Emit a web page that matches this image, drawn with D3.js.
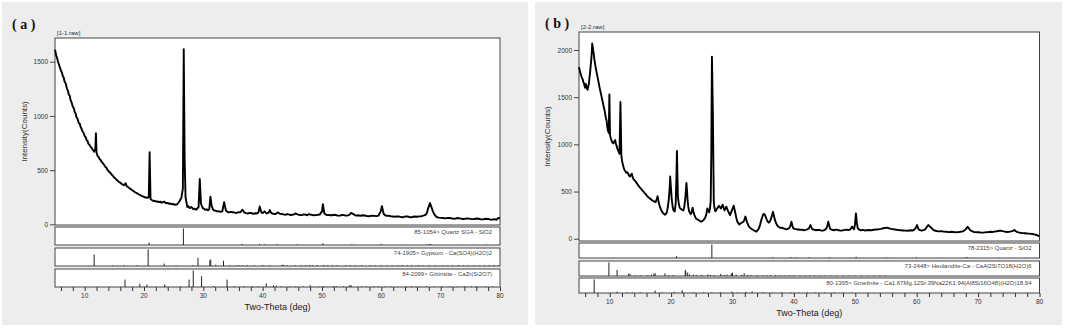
<!DOCTYPE html>
<html lang="en">
  <head>
    <meta charset="utf-8" />
    <title>XRD patterns</title>
    <script src="https://d3js.org/d3.v7.min.js"></script>
    <style>
      body {
        margin: 0;
        background-color: #ffffff;
        font-family: "Liberation Sans", Arial, sans-serif;
      }
      .tick text {
        font-family: "Liberation Sans", Arial, sans-serif;
      }
    </style>
  </head>

  <body>
    <div id="my_dataviz"></div>

    <script>
      // ---- data: [2theta, counts] ----
      const traceA = [
        [5.0,1610],[5.2,1560],[5.4,1525],[5.5,1500],[5.7,1470],[5.8,1450],[6.0,1420],[6.2,1395],[6.3,1370],[6.5,1350],[6.6,1320],[6.8,1300],[7.0,1255],
        [7.2,1230],[7.3,1200],[7.5,1185],[7.6,1150],[7.8,1125],[8.0,1085],[8.2,1070],[8.3,1040],[8.5,1020],[8.6,990],[8.8,975],[9.0,935],[9.2,925],
        [9.3,900],[9.5,880],[9.6,860],[9.8,845],[10.0,815],[10.2,800],[10.3,780],[10.5,768],[10.6,745],[10.8,735],[11.0,715],[11.2,705],[11.3,690],
        [11.5,680],[11.6,670],[11.8,700],[11.9,840],[12.0,660],[12.1,645],[12.2,630],[12.4,618],[12.5,605],[12.7,592],[12.8,580],[13.0,570],
        [13.1,560],[13.3,548],[13.5,530],[13.7,520],[13.8,505],[14.0,495],[14.2,480],[14.4,470],[14.6,455],[14.8,445],[15.0,430],[15.2,422],
        [15.4,410],[15.6,402],[15.8,390],[16.0,385],[16.2,375],[16.4,368],[16.6,360],[16.9,380],[17.1,350],[17.3,345],[17.5,335],[17.8,325],
        [18.0,315],[18.3,305],[18.5,295],[18.8,288],[19.0,280],[19.3,272],[19.5,265],[19.8,258],[20.0,252],[20.3,248],[20.5,245],[20.8,250],
        [20.95,665],[21.1,235],[21.3,225],[21.6,215],[21.8,218],[22.0,210],[22.3,212],[22.5,205],[22.8,208],[23.0,200],[23.4,210],[23.7,195],
        [24.0,198],[24.2,190],[24.5,192],[24.7,185],[25.0,188],[25.2,180],[25.6,185],[26.0,215],[26.3,245],[26.55,330],[26.7,1615],[26.85,600],
        [27.0,250],[27.3,160],[27.5,168],[27.7,150],[28.0,160],[28.3,140],[28.5,145],[28.8,135],[29.2,160],[29.4,418],[29.6,190],[29.9,150],
        [30.1,145],[30.3,135],[30.6,138],[30.8,130],[31.0,140],[31.2,255],[31.4,170],[31.6,140],[31.8,130],[32.1,125],[32.3,120],[32.6,122],
        [32.8,115],[33.2,120],[33.5,205],[33.8,130],[34.0,118],[34.3,110],[34.6,115],[35.0,112],[35.3,108],[35.6,105],[35.9,112],[36.2,110],
        [36.6,135],[36.9,110],[37.2,104],[37.5,100],[37.8,106],[38.0,105],[38.3,100],[38.5,98],[38.8,102],[39.0,100],[39.3,110],[39.5,165],
        [39.8,110],[40.0,104],[40.3,120],[40.7,100],[41.0,108],[41.2,132],[41.4,108],[41.6,100],[41.9,96],[42.1,95],[42.4,104],[42.6,110],
        [42.9,98],[43.2,95],[43.5,92],[43.8,88],[44.1,94],[44.4,92],[44.7,86],[45.0,88],[45.3,92],[45.5,100],[45.8,94],[46.0,90],[46.3,86],
        [46.6,85],[46.9,92],[47.2,90],[47.5,84],[47.8,95],[48.0,90],[48.3,88],[48.6,84],[49.0,85],[49.3,88],[49.6,90],[50.0,120],[50.15,185],
        [50.4,100],[50.6,92],[50.9,85],[51.2,88],[51.5,82],[51.8,86],[52.2,88],[52.6,82],[53.0,80],[53.4,86],[53.7,85],[54.0,80],[54.3,82],
        [54.6,88],[54.9,105],[55.3,95],[55.5,86],[55.8,80],[56.1,84],[56.5,78],[56.8,84],[57.2,82],[57.6,76],[58.0,75],[58.4,80],[58.8,78],
        [59.2,76],[59.5,80],[59.9,120],[60.1,168],[60.4,95],[60.6,86],[60.9,78],[61.2,80],[61.6,75],[62.0,72],[62.3,70],[62.6,74],[63.0,72],
        [63.4,66],[63.8,68],[64.1,74],[64.5,72],[64.8,66],[65.2,68],[65.6,72],[66.0,70],[66.4,74],[66.8,75],[67.2,82],[67.5,90],[67.7,110],
        [67.9,150],[68.2,196],[68.5,150],[68.7,120],[68.9,95],[69.1,80],[69.4,65],[69.7,62],[70.0,60],[70.4,58],[70.8,55],[71.2,60],[71.6,58],
        [72.0,54],[72.4,52],[72.8,58],[73.2,55],[73.6,50],[74.0,50],[74.4,55],[74.8,53],[75.2,48],[75.6,48],[76.0,54],[76.4,52],[76.8,46],
        [77.2,47],[77.6,52],[78.0,50],[78.4,44],[78.8,45],[79.1,48],[79.4,42],[79.7,60],[80.0,55]
      ];

      const traceB = [
        [5.0,1820],[5.1,1790],[5.2,1760],[5.3,1740],[5.4,1720],[5.5,1700],[5.6,1690],[5.7,1660],[5.8,1650],[5.9,1620],[6.0,1600],[6.1,1640],
        [6.2,1620],[6.3,1590],[6.4,1580],[6.5,1610],[6.6,1640],[6.7,1700],[6.8,1760],[6.9,1830],[7.0,1900],[7.1,1990],[7.15,2070],[7.25,2030],
        [7.3,2000],[7.4,1960],[7.5,1900],[7.6,1860],[7.7,1820],[7.85,1770],[8.0,1720],[8.15,1670],[8.3,1620],[8.45,1570],[8.6,1530],[8.75,1480],
        [8.9,1440],[9.05,1390],[9.2,1350],[9.35,1290],[9.5,1250],[9.6,1190],[9.7,1150],[9.85,1120],[9.95,1530],[10.05,1100],[10.2,1060],
        [10.3,1040],[10.45,1020],[10.6,1010],[10.75,1030],[10.9,1045],[11.0,1010],[11.1,990],[11.25,955],[11.4,930],[11.5,915],[11.6,900],
        [11.75,1450],[11.9,880],[12.0,830],[12.1,800],[12.25,760],[12.4,730],[12.55,715],[12.7,700],[12.85,705],[13.0,690],[13.15,670],[13.3,660],
        [13.45,675],[13.6,690],[13.75,650],[13.9,630],[14.1,615],[14.3,600],[14.5,580],[14.7,560],[14.9,545],[15.1,530],[15.3,512],[15.5,500],
        [15.7,484],[15.9,470],[16.1,452],[16.3,440],[16.5,428],[16.7,420],[16.9,408],[17.1,400],[17.3,392],[17.5,390],[17.8,450],[18.0,380],
        [18.15,345],[18.3,320],[18.5,290],[18.7,270],[18.85,262],[19.0,255],[19.15,262],[19.3,280],[19.45,330],[19.6,400],[19.75,520],[19.85,660],
        [19.95,560],[20.1,420],[20.25,340],[20.4,300],[20.6,290],[20.75,380],[20.85,600],[20.95,930],[21.05,620],[21.1,450],[21.25,370],
        [21.4,330],[21.55,318],[21.7,310],[21.85,305],[22.0,300],[22.15,340],[22.3,420],[22.5,590],[22.6,500],[22.7,400],[22.8,340],[22.9,300],
        [23.05,275],[23.2,260],[23.35,280],[23.5,330],[23.65,280],[23.8,250],[23.95,228],[24.1,210],[24.3,205],[24.5,195],[24.7,190],[24.9,180],
        [25.1,188],[25.3,200],[25.45,215],[25.6,230],[25.75,265],[25.9,320],[26.05,300],[26.2,280],[26.35,330],[26.45,400],[26.55,900],
        [26.65,1930],[26.8,1350],[26.95,400],[27.05,330],[27.2,290],[27.35,305],[27.5,320],[27.65,335],[27.8,350],[27.95,335],[28.1,320],
        [28.25,340],[28.4,360],[28.55,330],[28.7,300],[28.85,320],[29.0,340],[29.15,315],[29.3,290],[29.45,270],[29.6,250],[29.75,275],[29.9,300],
        [30.05,325],[30.2,350],[30.35,305],[30.5,260],[30.65,215],[30.8,180],[30.95,165],[31.1,150],[31.3,162],[31.5,170],[31.65,175],[31.8,180],
        [31.95,205],[32.1,235],[32.25,200],[32.4,170],[32.6,140],[32.8,120],[33.0,108],[33.2,100],[33.4,92],[33.6,85],[33.75,80],[33.9,75],
        [34.1,90],[34.3,110],[34.5,150],[34.7,200],[34.85,230],[35.0,260],[35.15,262],[35.3,250],[35.45,225],[35.6,200],[35.75,180],[35.9,170],
        [36.05,180],[36.2,200],[36.4,240],[36.6,285],[36.75,240],[36.9,200],[37.1,165],[37.3,140],[37.55,125],[37.8,115],[38.05,118],[38.3,110],
        [38.55,105],[38.8,100],[39.0,104],[39.2,110],[39.4,130],[39.6,180],[39.75,140],[39.9,110],[40.15,104],[40.4,100],[40.7,98],[41.0,95],
        [41.3,96],[41.6,90],[41.9,94],[42.2,100],[42.45,110],[42.7,145],[42.85,120],[43.0,100],[43.3,96],[43.6,90],[43.9,94],[44.2,92],
        [44.5,86],[44.8,88],[45.05,95],[45.3,110],[45.45,140],[45.6,180],[45.75,140],[45.9,105],[46.2,95],[46.5,90],[46.85,96],[47.2,92],
        [47.55,86],[47.9,88],[48.25,94],[48.6,95],[48.9,92],[49.2,100],[49.35,115],[49.5,130],[49.65,112],[49.8,100],[49.95,150],[50.1,269],
        [50.25,170],[50.4,110],[50.65,96],[50.9,90],[51.2,94],[51.5,88],[51.85,90],[52.2,92],[52.6,90],[53.0,95],[53.4,98],[53.8,100],[54.15,104],
        [54.5,110],[54.75,114],[55.0,115],[55.25,118],[55.5,110],[55.85,104],[56.2,100],[56.6,96],[57.0,92],[57.4,90],[57.8,88],[58.2,86],
        [58.6,85],[59.0,90],[59.4,88],[59.6,96],[59.8,110],[60.05,145],[60.2,118],[60.3,100],[60.55,92],[60.8,85],[61.1,92],[61.4,100],
        [61.65,125],[61.9,145],[62.1,132],[62.3,120],[62.55,104],[62.8,90],[63.2,82],[63.6,78],[64.0,80],[64.4,75],[64.8,74],[65.2,70],[65.6,74],
        [66.0,72],[66.4,68],[66.8,70],[67.15,74],[67.5,78],[67.75,88],[68.0,100],[68.15,115],[68.3,127],[68.5,110],[68.7,90],[69.0,80],[69.3,72],
        [69.65,70],[70.0,68],[70.4,66],[70.8,65],[71.2,68],[71.6,70],[72.0,74],[72.4,72],[72.7,76],[73.0,78],[73.25,82],[73.5,85],[73.75,84],
        [74.0,80],[74.35,76],[74.7,72],[75.05,74],[75.4,78],[75.65,84],[75.9,92],[76.15,80],[76.4,70],[76.8,64],[77.2,60],[77.6,58],[78.0,55],
        [78.4,54],[78.8,50],[79.15,46],[79.5,40],[79.75,32],[80.0,25]
      ];

      // reference patterns: [2theta, relative intensity %]
      const quartzA = [[20.86,15],[26.64,100],[36.54,6],[39.47,6],[40.29,4],[42.45,5],[45.79,4],[50.14,10],[54.87,3],[55.33,2],
        [59.96,7],[64.03,2],[67.74,3],[68.14,5],[68.32,4],[73.47,2],[75.66,2],[77.67,2],[79.88,2]];
      const gypsum = [[11.6,70],[14.7,3],[16.6,5],[18.8,4],[20.7,100],[23.4,15],[25.4,3],[28.2,5],[29.1,50],[31.1,35],[31.25,40],
        [32.1,8],[33.4,32],[34.5,4],[35.5,4],[36.0,4],[36.6,4],[37.4,4],[38.6,4],[40.0,6],[41.2,3],[43.3,8],[43.6,6],[44.2,4],[45.5,4],
        [46.5,4],[47.2,5],[47.9,6],[48.4,4],[49.2,5],[50.3,6],[51.0,4],[51.8,5],[52.5,4],[54.0,4],[54.8,4],[55.6,4],[56.7,5],[58.1,4],
        [59.0,4],[60.0,4],[61.0,4],[61.8,4],[62.8,5],[63.5,5],[64.4,4],[65.1,5],[66.3,5],[67.0,4],[68.1,5],[69.1,4],[70.4,4],[71.2,4],
        [72.0,4],[73.0,5],[73.8,4],[74.6,4],[75.6,4],[76.6,4],[77.4,4],[78.2,4],[79.0,4],[79.7,4]];
      const gittinsite = [[16.8,45],[19.3,20],[20.5,15],[23.5,15],[26.2,3],[27.6,45],[28.3,100],[29.7,65],[31.7,5],[34.0,45],[35.2,4],
        [36.9,5],[38.3,5],[39.2,5],[40.6,22],[41.8,10],[42.3,8],[43.1,5],[44.5,4],[45.6,4],[46.8,4],[48.0,10],[49.5,3],[50.3,6],[51.9,5],
        [52.4,5],[53.6,3],[54.6,10],[54.9,12],[56.6,4],[57.5,4],[58.7,5],[59.5,4],[60.6,4],[61.6,3],[62.8,3],[64.2,4],[65.1,5],[66.5,4],
        [67.6,4],[68.9,4],[70.3,4],[71.6,4],[72.7,3],[74.0,4],[75.2,4],[76.0,4],[77.6,4],[78.8,4]];

      const quartzB = [[20.86,14],[26.64,100],[36.54,6],[39.47,6],[40.29,4],[42.45,5],[45.79,4],[50.14,9],[54.87,3],[55.33,2],
        [59.96,6],[64.03,2],[67.74,3],[68.14,5],[68.32,4],[73.47,2],[75.66,2],[77.67,2],[79.88,2]];
      const heulandite = [[9.87,100],[11.2,45],[13.1,18],[13.3,15],[14.2,5],[15.1,5],[16.2,6],[16.8,10],[17.2,18],[17.4,20],[19.0,20],
        [19.6,6],[20.3,6],[22.3,45],[22.4,35],[22.7,25],[23.0,12],[23.6,10],[24.1,8],[25.0,8],[26.0,12],[26.4,8],[27.0,6],[28.1,15],
        [28.7,8],[29.1,10],[29.8,20],[30.0,25],[30.6,10],[31.5,8],[31.9,20],[32.5,8],[33.0,6],[34.0,5],[35.0,5],[35.6,5],[36.2,6],[37.0,5],
        [37.8,5],[38.5,4],[39.3,5],[40.0,5],[41.0,4],[41.8,4],[42.6,5],[43.4,4],[44.3,4],[45.0,4],[46.0,4],[47.0,4],[48.0,4],[49.0,4],
        [50.0,4],[51.0,4],[52.0,4],[53.0,4],[54.0,4],[55.0,4]];
      const gmelinite = [[7.47,100],[11.2,10],[12.9,5],[13.7,4],[15.0,4],[17.4,18],[18.5,4],[20.5,8],[21.8,20],[23.6,6],[25.3,5],
        [26.6,5],[28.0,6],[29.9,10],[30.8,4],[32.2,8],[33.2,12],[35.0,6],[36.5,4],[38.0,4],[39.5,4],[40.8,4],[42.2,4],[43.5,4],[45.0,4],
        [46.6,4],[48.0,3],[49.5,3]];

      const xMinorTicks = [6,8,10,12,14,16,18,20,22,24,26,28,30,32,34,36,38,40,42,44,46,48,50,52,54,56,58,60,62,64,66,68,70,72,74,76,78,80];
      const xTickLabels = [10,20,30,40,50,60,70,80];
      const yTicksA = [0,500,1000,1500];
      const yTicksB = [0,500,1000,1500,2000];

      const refLabelsA = ["85-1054> Quartz SGA - SiO2", "74-1905> Gypsum - Ca(SO4)(H2O)2", "84-2099> Gittinsite - CaZr(Si2O7)"];
      const refLabelsB = ["78-2315> Quartz - SiO2", "73-2448> Heulandite-Ca - CaAl2Si7O18(H2O)6",
        "80-1395> Gmelinite - Ca1.67Mg.12Sr.39Na22K1.94(Al8Si16O48)(H2O)18.94"];

      const W = 1065, H = 328;
      const svg = d3.select("#my_dataviz").append("svg").attr("width", W).attr("height", H);

      const panels = [
        {
          tag: "( a )", raw: "[1-1.raw]", bg: [2, 2, 526, 323], tagX: 12, tagY: 29,
          left: 55, right: 500, top: 38, bottom: 225, yDom: [-6, 1719], yTicks: yTicksA,
          trace: traceA, refs: [quartzA, gypsum, gittinsite], labels: refLabelsA,
          boxes: [[227, 245], [248, 266], [269, 287]], labelY: 298, titleY: 310, ylabX: 27
        },
        {
          tag: "( b )", raw: "[2-2.raw]", bg: [535, 2, 527, 323], tagX: 545, tagY: 28,
          left: 579, right: 1039.5, top: 32, bottom: 241, yDom: [-24, 2191], yTicks: yTicksB,
          trace: traceB, refs: [quartzB, heulandite, gmelinite], labels: refLabelsB,
          boxes: [[243, 258], [261, 276], [278, 293]], labelY: 304, titleY: 316, ylabX: 550
        }
      ];

      panels.forEach((p) => {
        const g = svg.append("g");

        g.append("rect")
          .attr("x", p.bg[0]).attr("y", p.bg[1])
          .attr("width", p.bg[2]).attr("height", p.bg[3])
          .style("fill", "#ededed");

        g.append("text")
          .attr("x", p.tagX).attr("y", p.tagY)
          .style("font-family", "'Liberation Serif', 'Times New Roman', serif")
          .style("font-weight", "bold").style("font-size", "14px")
          .style("fill", "#111")
          .text(p.tag);

        const x = d3.scaleLinear().domain([5, 80]).range([p.left, p.right]);
        const y = d3.scaleLinear().domain(p.yDom).range([p.bottom, p.top]);

        // main plot frame
        g.append("rect")
          .attr("x", p.left).attr("y", p.top)
          .attr("width", p.right - p.left).attr("height", p.bottom - p.top)
          .style("fill", "white").style("stroke", "#444").style("stroke-width", 1);

        g.append("text")
          .attr("x", p.left + 2).attr("y", p.top - 3)
          .style("font-size", "6px").style("fill", "#333")
          .text(p.raw);

        // y axis
        g.append("g")
          .attr("transform", `translate(${p.left},0)`)
          .style("font-size", "6.5px")
          .call(d3.axisLeft(y).tickValues(p.yTicks).tickSize(5).tickPadding(2).tickFormat(d3.format("d")))
          .call((a) => a.select(".domain").remove())
          .call((a) => a.selectAll("line").style("stroke", "#444"))
          .call((a) => a.selectAll("text").style("fill", "#333"));

        g.append("text")
          .attr("transform", `translate(${p.ylabX},${(p.top + p.bottom) / 2}) rotate(-90)`)
          .attr("text-anchor", "middle")
          .style("font-size", "8px").style("fill", "#333")
          .text("Intensity(Counts)");

        // diffraction trace
        const line = d3.line().x((d) => x(d[0])).y((d) => y(d[1]));
        g.append("path")
          .datum(p.trace)
          .attr("d", line)
          .style("fill", "none")
          .style("stroke", "#000")
          .style("stroke-width", 1.9)
          .style("stroke-linejoin", "round");

        // reference pattern boxes
        p.refs.forEach((ref, i) => {
          const [b0, b1] = p.boxes[i];
          const ys = d3.scaleLinear().domain([0, 100]).range([b1, b0 + 1.5]);
          g.append("rect")
            .attr("x", p.left).attr("y", b0)
            .attr("width", p.right - p.left).attr("height", b1 - b0)
            .style("fill", "white").style("stroke", "#444").style("stroke-width", 1);

          g.selectAll(null)
            .data(ref)
            .enter()
            .append("line")
            .attr("x1", (d) => x(d[0])).attr("x2", (d) => x(d[0]))
            .attr("y1", b1).attr("y2", (d) => ys(d[1]))
            .style("stroke", "#222").style("stroke-width", 1);

          g.append("text")
            .attr("x", p.right - 8).attr("y", b0 + 7)
            .attr("text-anchor", "end")
            .style("font-size", "6px").style("fill", "#444")
            .text(p.labels[i]);
        });

        // x axis under the last box
        const lastB = p.boxes[2][1];
        g.append("g")
          .attr("transform", `translate(0,${lastB})`)
          .call(d3.axisBottom(x).tickValues(xMinorTicks).tickSize(4).tickFormat(""))
          .call((a) => a.select(".domain").remove())
          .call((a) => a.selectAll("line").style("stroke", "#333"));

        g.selectAll(null)
          .data(xTickLabels)
          .enter()
          .append("text")
          .attr("x", (d) => x(d)).attr("y", p.labelY)
          .attr("text-anchor", "middle")
          .style("font-size", "6.5px").style("fill", "#333")
          .text((d) => d);

        g.append("text")
          .attr("x", (p.left + p.right) / 2).attr("y", p.titleY)
          .attr("text-anchor", "middle")
          .style("font-size", "9px").style("fill", "#222")
          .text("Two-Theta (deg)");
      });
    </script>
  </body>
</html>
